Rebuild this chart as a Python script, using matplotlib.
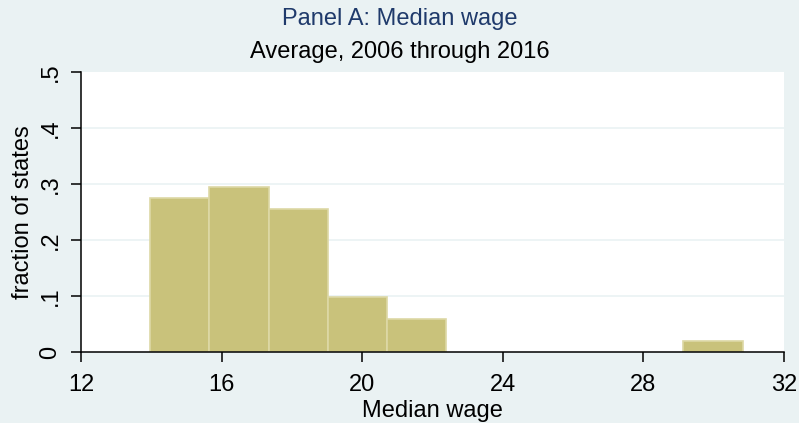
import numpy as np
import matplotlib.pyplot as plt

plt.rcParams['font.family'] = ['Liberation Sans', 'DejaVu Sans']

# histogram bins (Stata-style, 51 states)
bin_start = 13.97
bin_width = 1.685
fractions = [0.2745, 0.2941, 0.2549, 0.0980, 0.0588, 0, 0, 0, 0, 0.0196]
x_ticks = [12, 16, 20, 24, 28, 32]
y_ticks = [0, 0.1, 0.2, 0.3, 0.4, 0.5]
y_labels = ['0', '.1', '.2', '.3', '.4', '.5']

bg = '#EAF2F3'
fs = 17
fig = plt.figure(figsize=(7.99, 4.23), dpi=100, facecolor=bg)
ax = fig.add_axes([81/799, 1 - 352/423, (784-81)/799, (352-72)/423])
ax.set_facecolor('white')

lefts = bin_start + bin_width * np.arange(len(fractions))
for l, h in zip(lefts, fractions):
    if h > 0:
        ax.bar(l, h, width=bin_width, align='edge', color='#C9C27B',
               edgecolor='#DDD8A6', linewidth=1.2, zorder=2)

ax.set_xlim(12, 32)
ax.set_ylim(0, 0.5)
ax.set_xticks(x_ticks)
ax.set_yticks(y_ticks)
ax.set_yticklabels(y_labels, rotation=90, va='center')
for y in y_ticks[1:-1]:
    ax.axhline(y, color=bg, lw=1.2, zorder=1)

for s in ['top', 'right']:
    ax.spines[s].set_visible(False)
for s in ['left', 'bottom']:
    ax.spines[s].set_linewidth(1.1)
ax.tick_params(length=7, width=1.1, labelsize=fs)
ax.tick_params(axis='x', pad=9)
ax.tick_params(axis='y', pad=7)

ax.set_xlabel('Median wage', fontsize=fs, labelpad=3)
ax.set_ylabel('fraction of states', fontsize=fs, labelpad=4)
fig.text(0.5, 1 - 19/423, 'Panel A: Median wage', ha='center', va='center',
         fontsize=fs, color='#1F3A6B')
fig.text(0.5, 1 - 52/423, 'Average, 2006 through 2016', ha='center', va='center',
         fontsize=fs, color='black')

fig.savefig('out.png', dpi=100, facecolor=bg)
